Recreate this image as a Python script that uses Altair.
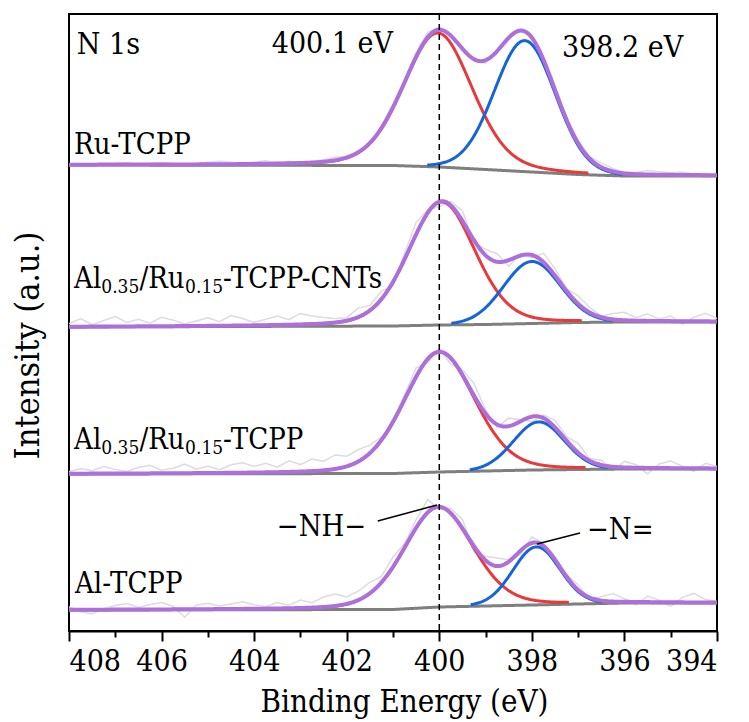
import numpy as np
import pandas as pd
import altair as alt

FONT = "DejaVu Serif Condensed, DejaVu Serif"
COND = 0.9  # horizontal scale of the condensed face relative to DejaVu Serif

# ---------------- data ----------------
panels = ["Ru-TCPP", "Al0.35/Ru0.15-TCPP-CNTs", "Al0.35/Ru0.15-TCPP", "Al-TCPP"]

# background (Shirley-like) anchor points, eV -> intensity (a.u.)
bg_energy = [408, 401, 400, 399, 398, 397, 396, 394]
bg_ru = [466, 465.5, 464, 461.5, 459, 456.5, 455, 455]
bg_cnt = [304, 305, 306, 306.5, 307.5, 308.5, 309, 309]
bg_alru = [157, 157.5, 159, 160, 161, 161.5, 162, 162]
bg_al = [21, 21.5, 24, 25, 26, 27, 28, 28]
backgrounds = [bg_ru, bg_cnt, bg_alru, bg_al]

# fitted components: -NH- (red) and -N= (blue)
nh_center = [400.03, 399.95, 400.0, 400.02]
nh_height = [134, 123, 120, 100]
nh_fwhm = [1.75, 1.7, 1.8, 1.75]
nh_lorentz = 0.2
n_center = [398.15, 398.0, 397.85, 397.9]
n_height = [131, 62, 48, 58]
n_fwhm = [1.55, 1.45, 1.3, 1.2]
n_lorentz = 0.05

# raw spectrum: deviation from the fitted envelope, 408 -> 394 eV, 0.25 eV step
raw_ru = [0, 1, 0, -1, 1, 2, 0, 1, 2, 1, 0, 1, 2, 3, 2, 1, 2, 3, 1, 2, 0, 1, 2, 3, 1, 0, -1, 2, 3,
          1, 4, 5, 3, 1, 2, -2, -3, 0, 2, 1, 3, 2, -1, 1, 3, 2, 4, 3, 1, 2, 4, 3, 2, 3, 1, 2, 0]
raw_cnt = [3, 8, 2, 6, 10, 4, 7, 3, 9, 6, 2, 5, 8, 4, 10, 7, 3, 6, 9, 5, 11, 8, 6, 4, 3, 9, 5, 8, -4,
           6, 12, 3, -5, 4, 10, -3, 6, 8, -6, 2, -3, 9, 7, 2, 8, 5, 1, 6, 8, 3, 7, 2, 5, -3, 4, 8, 3]
raw_alru = [2, 5, 3, 7, 4, 2, 6, 8, 3, 5, 9, 4, 7, 3, 8, 10, 6, 9, 5, 11, 7, 12, 9, 14, 10, 12, 8, 3,
            -2, 5, 9, -4, 3, -6, 5, 12, 4, -3, 8, 2, -5, 3, 7, 4, 9, 2, 5, -4, 6, 3, -6, 4, 7, 2, -3, 5, 2]
raw_al = [3, -2, -4, 1, 4, 6, 2, 5, 7, 3, -8, 4, 6, 3, 5, 7, 4, 2, 6, 3, 8, 5, 10, 12, 7, 9, 11, 6,
          10, 4, 8, 13, -3, 5, 9, -6, 4, 8, 2, -4, 6, 3, -5, 2, 5, -2, 4, 8, 3, -3, 6, 2, -4, 5, 9, 3, 1]
raws = [raw_ru, raw_cnt, raw_alru, raw_al]

ref_energy = 400.0
x_ticks = list(range(394, 409))


# ---------------- build curves ----------------
def pvoigt(e, c, a, f, m):
    u = 4.0 * (e - c) ** 2 / f ** 2
    return a * ((1 - m) * np.exp(-np.log(2) * u) + m / (1 + u))


grid = np.round(np.arange(394, 408.0001, 0.02), 3)
rows = []
for i, p in enumerate(panels):
    bg = np.interp(grid, bg_energy[::-1], backgrounds[i][::-1])
    red = pvoigt(grid, nh_center[i], nh_height[i], nh_fwhm[i], nh_lorentz)
    blue = pvoigt(grid, n_center[i], n_height[i], n_fwhm[i], n_lorentz)
    env = bg + red + blue
    for e, b, r, bl, en in zip(grid, bg, red, blue, env):
        rows.append((e, b, "bg", p))
        rows.append((e, en, "env", p))
        if r >= 1.8:
            rows.append((e, b + r, "red", p))
        if bl >= 1.5:
            rows.append((e, b + bl, "blue", p))
    re = np.linspace(408, 394, len(raws[i]))
    rbg = np.interp(re, bg_energy[::-1], backgrounds[i][::-1])
    renv = rbg + pvoigt(re, nh_center[i], nh_height[i], nh_fwhm[i], nh_lorentz) + \
        pvoigt(re, n_center[i], n_height[i], n_fwhm[i], n_lorentz)
    for e, v in zip(re, renv + np.array(raws[i])):
        rows.append((e, v, "raw", p))

df = pd.DataFrame(rows, columns=["E", "I", "kind", "panel"])

x_enc = alt.X(
    "E:Q",
    scale=alt.Scale(domain=[394, 408], reverse=True, nice=False, zero=False),
    axis=alt.Axis(
        title="Binding Energy (eV)",
        values=x_ticks,
        format="d",
        labelExpr="datum.value % 2 === 0 ? datum.label : ''",
        labelOverlap=False,
        tickSize={"condition": {"test": "datum.value % 2 === 0", "value": 10}, "value": 6},
        labelPadding=5,
        titlePadding=11,
        titleX=335,
        grid=False,
        labelFontSize=30,
        titleFontSize=31,
    ),
)
y_enc = alt.Y(
    "I:Q",
    scale=alt.Scale(domain=[0, 617], nice=False, zero=False),
    axis=alt.Axis(title="Intensity (a.u.)", labels=False, ticks=False, domain=False,
                  grid=False, titlePadding=24, titleY=331, titleFontSize=34),
)

styles = [
    ("raw", "#dcdcdc", 1.5),
    ("bg", "#7f7f7f", 3),
    ("red", "#e8393b", 3),
    ("blue", "#1565d8", 3),
    ("env", "#ad6fdc", 4),
]
layers = []
for kind, col, w in styles:
    layers.append(
        alt.Chart(df[df.kind == kind]).mark_line(color=col, strokeWidth=w).encode(
            x=x_enc, y=y_enc, detail="panel:N"
        )
    )

one = pd.DataFrame({"a": [0]})
layers.append(
    alt.Chart(one).mark_rule(color="black", strokeWidth=1.5, strokeDash=[6, 4]).encode(
        x=alt.datum(ref_energy)
    )
)

# DejaVu Serif advance widths (em) for the characters used in the subscripted labels
CW = {"A": .722, "l": .320, "0": .636, "1": .636, "3": .636, "5": .636, ".": .318,
      "/": .337, "R": .770, "u": .644, "-": .338, "T": .668, "C": .733, "P": .673,
      "N": .820, "s": .513}


def twidth(s, size):
    return sum(CW[c] for c in s) * size * COND


def txt(label, e, v, size, dx=0, dy=0):
    return alt.Chart(one).mark_text(
        text=label, font=FONT, fontSize=size, align="left", baseline="middle",
        color="black", dx=dx, dy=dy
    ).encode(x=alt.datum(e), y=alt.datum(v))


layers += [
    txt("N 1s", 407.83, 586, 30),
    txt("400.1 eV", 403.62, 587, 30),
    txt("398.2 eV", 397.35, 583, 30),
    txt("Ru-TCPP", 407.89, 486, 29),
    txt("Al-TCPP", 407.87, 47, 29),
    txt("\u2212NH\u2212", 403.51, 104, 29),
    txt("\u2212N=", 396.81, 101, 29),
]
MAIN, SUB = 29, 19
for base_v, suffix in [(352, "-TCPP-CNTs"), (191, "-TCPP")]:
    parts = [("Al", MAIN, 0), ("0.35", SUB, 8), ("/Ru", MAIN, 0), ("0.15", SUB, 8), (suffix, MAIN, 0)]
    off = 0.0
    for s, size, dy in parts:
        layers.append(txt(s, 407.89, base_v, size, dx=round(off, 1), dy=dy))
        off += twidth(s, size)

for (e1, v1, e2, v2) in [(401.33, 110, 400.05, 126), (397.89, 87, 396.96, 98)]:
    layers.append(
        alt.Chart(one).mark_rule(color="black", strokeWidth=1.5).encode(
            x=alt.datum(e1), y=alt.datum(v1), x2=alt.datum(e2), y2=alt.datum(v2)
        )
    )

chart = alt.layer(*layers).properties(
    width=648, height=617,
    autosize=alt.AutoSizeParams(type="none"),
    padding={"left": 61, "top": 6, "right": 24, "bottom": 90},
).configure_view(stroke="black", strokeWidth=2).configure_axis(
    labelFont=FONT, titleFont=FONT,
    titleFontWeight="normal", labelColor="black", titleColor="black",
    tickColor="black", domainColor="black", tickWidth=2, domainWidth=2,
)

chart.save("out.html", embed_options={"renderer": "svg", "actions": False})
